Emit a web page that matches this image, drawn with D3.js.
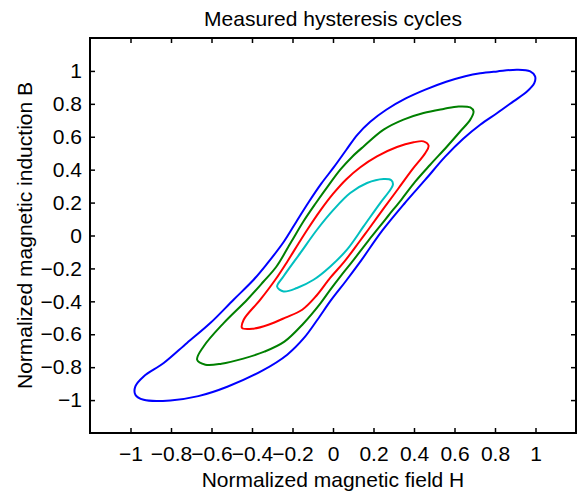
<!DOCTYPE html>
<html lang="en">
<head>
    <meta charset="UTF-8">
    <title>Measured hysteresis cycles</title>
    <script src="https://d3js.org/d3.v7.min.js"></script>
    <style>
        body { margin: 0; background: #fff; }
        text { font-family: "Liberation Sans", Arial, sans-serif; }
    </style>
</head>
<body>
    <div id="chart"></div>

    <script>
        // Tick values shared by both axes
        var xTicks = [-1, -0.8, -0.6, -0.4, -0.2, 0, 0.2, 0.4, 0.6, 0.8, 1];
        var yTicks = [-1, -0.8, -0.6, -0.4, -0.2, 0, 0.2, 0.4, 0.6, 0.8, 1];

        // Measured cycles, [H, B] read along each closed loop
        var blueCycle = [
            [-0.976, -0.967], [-0.976, -0.917], [-0.935, -0.856], [-0.836, -0.775], [-0.721, -0.653],
            [-0.606, -0.532], [-0.491, -0.390], [-0.392, -0.269], [-0.329, -0.177], [-0.243, -0.038],
            [-0.181, 0.084], [-0.122, 0.199], [-0.058, 0.315], [0.006, 0.418], [0.066, 0.521],
            [0.120, 0.612], [0.184, 0.691], [0.263, 0.764], [0.357, 0.831], [0.456, 0.886],
            [0.559, 0.934], [0.653, 0.968], [0.727, 0.986], [0.811, 0.997], [0.910, 1.007],
            [0.974, 0.997], [0.998, 0.967], [0.994, 0.926], [0.958, 0.875], [0.891, 0.815],
            [0.811, 0.744], [0.727, 0.673], [0.643, 0.588], [0.554, 0.479], [0.456, 0.339],
            [0.352, 0.193], [0.243, 0.029], [0.135, -0.159], [0.061, -0.281], [-0.008, -0.390],
            [-0.077, -0.512], [-0.142, -0.621], [-0.226, -0.724], [-0.349, -0.821], [-0.522, -0.919],
            [-0.665, -0.976], [-0.803, -1.002], [-0.935, -0.998]
        ];
        var greenCycle = [
            [-0.671, -0.755], [-0.639, -0.674], [-0.540, -0.532], [-0.424, -0.390], [-0.344, -0.281],
            [-0.280, -0.190], [-0.206, -0.038], [-0.147, 0.084], [-0.087, 0.193], [-0.023, 0.303],
            [0.036, 0.400], [0.095, 0.479], [0.151, 0.541], [0.250, 0.643], [0.348, 0.704],
            [0.447, 0.744], [0.546, 0.769], [0.620, 0.784], [0.678, 0.778], [0.694, 0.754],
            [0.678, 0.704], [0.628, 0.632], [0.563, 0.541], [0.480, 0.430], [0.406, 0.327],
            [0.337, 0.217], [0.273, 0.120], [0.214, 0.029], [0.174, -0.032], [0.095, -0.159],
            [0.036, -0.250], [-0.013, -0.329], [-0.063, -0.414], [-0.147, -0.536], [-0.240, -0.645],
            [-0.339, -0.706], [-0.443, -0.748], [-0.551, -0.779], [-0.630, -0.785]
        ];
        var redCycle = [
            [-0.449, -0.562], [-0.441, -0.512], [-0.359, -0.390], [-0.285, -0.269], [-0.226, -0.159],
            [-0.171, -0.050], [-0.127, 0.035], [-0.063, 0.151], [0.001, 0.254], [0.066, 0.342],
            [0.135, 0.415], [0.217, 0.481], [0.316, 0.538], [0.398, 0.566], [0.447, 0.572],
            [0.472, 0.546], [0.456, 0.501], [0.391, 0.400], [0.322, 0.284], [0.253, 0.169],
            [0.174, 0.035], [0.130, -0.038], [0.056, -0.159], [-0.013, -0.256], [-0.082, -0.366],
            [-0.152, -0.451], [-0.235, -0.499], [-0.319, -0.542], [-0.393, -0.566]
        ];
        var cyanCycle = [
            [-0.276, -0.311], [-0.244, -0.248], [-0.161, -0.106], [-0.079, 0.035], [0.003, 0.157],
            [0.085, 0.258], [0.168, 0.319], [0.250, 0.343], [0.288, 0.336], [0.296, 0.309],
            [0.283, 0.278], [0.233, 0.197], [0.151, 0.055], [0.069, -0.086], [-0.013, -0.188],
            [-0.096, -0.269], [-0.178, -0.319], [-0.244, -0.340]
        ];

        var cycles = [blueCycle, greenCycle, redCycle, cyanCycle];
        var cycleColors = ["#0000ff", "#008000", "#ff0000", "#00bfbf"];

        // Set up SVG dimensions and margins
        var margin = {top: 38, right: 4, bottom: 62, left: 90};
        var width = 580 - margin.left - margin.right;
        var height = 495 - margin.top - margin.bottom;

        var svg = d3.select("#chart")
                    .append("svg")
                    .attr("width", 580)
                    .attr("height", 495)
                    .append("g")
                    .attr("transform", "translate(" + margin.left + "," + margin.top + ")");

        var x = d3.scaleLinear().domain([-1.2, 1.2]).range([0, width]);
        var y = d3.scaleLinear().domain([-1.2, 1.2]).range([height, 0]);

        // minus sign is wide in the original, so the labels nearly touch
        var fmt = function(d) { return (d < 0 ? "\u2212" : "") + Math.abs(d); };

        // Loops
        var line = d3.line()
                     .x(function(d) { return x(d[0]); })
                     .y(function(d) { return y(d[1]); })
                     .curve(d3.curveCatmullRomClosed.alpha(0.5));

        svg.selectAll(".cycle")
           .data(cycles)
           .enter().append("path")
           .attr("class", "cycle")
           .attr("d", line)
           .attr("fill", "none")
           .attr("stroke", function(d, i) { return cycleColors[i]; })
           .attr("stroke-width", 2)
           .attr("stroke-linejoin", "round");

        // Axes, ticks pointing inward on all four sides
        function styleAxis(g) {
            g.select(".domain").remove();
            g.selectAll(".tick line").attr("stroke", "#000").attr("stroke-width", 1.5);
            g.selectAll(".tick text").attr("fill", "#000").style("font-size", "21px");
        }

        svg.append("g")
           .attr("transform", "translate(0," + height + ")")
           .call(d3.axisBottom(x).tickValues(xTicks).tickFormat(fmt).tickSize(-5).tickPadding(13))
           .call(styleAxis);

        svg.append("g")
           .call(d3.axisTop(x).tickValues(xTicks).tickFormat("").tickSize(-5))
           .call(styleAxis);

        svg.append("g")
           .call(d3.axisLeft(y).tickValues(yTicks).tickFormat(fmt).tickSize(-5).tickPadding(8))
           .call(styleAxis);

        svg.append("g")
           .attr("transform", "translate(" + width + ",0)")
           .call(d3.axisRight(y).tickValues(yTicks).tickFormat("").tickSize(-5))
           .call(styleAxis);

        // Box
        svg.append("rect")
           .attr("width", width)
           .attr("height", height)
           .attr("fill", "none")
           .attr("stroke", "#000")
           .attr("stroke-width", 2);

        // Title and axis labels
        svg.append("text")
           .attr("x", width / 2)
           .attr("y", -12)
           .attr("text-anchor", "middle")
           .style("font-size", "21px")
           .text("Measured hysteresis cycles");

        svg.append("text")
           .attr("x", width / 2)
           .attr("y", height + 54)
           .attr("text-anchor", "middle")
           .style("font-size", "21px")
           .text("Normalized magnetic field H");

        svg.append("text")
           .attr("transform", "translate(" + (-58) + "," + (height / 2) + ") rotate(-90)")
           .attr("text-anchor", "middle")
           .style("font-size", "21px")
           .text("Normalized magnetic induction B");
    </script>
</body>
</html>
